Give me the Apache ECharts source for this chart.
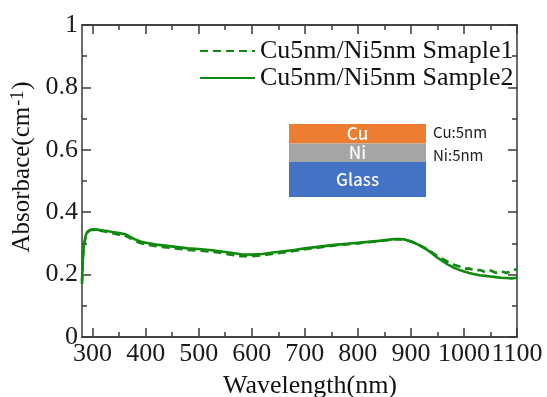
<!DOCTYPE html>
<html>
<head>
<meta charset="utf-8">
<script src="https://cdn.jsdelivr.net/npm/echarts@6/dist/echarts.min.js"></script>
<style>
  html, body { margin: 0; padding: 0; background: #fff; }
  #chart { width: 547px; height: 397px; }
</style>
</head>
<body>
<div id="chart"></div>
<script>
// Absorbance spectra of Cu5nm/Ni5nm films on glass
const wavelength = [280, 282, 284, 287, 290, 295, 300, 310, 320, 330, 340, 350, 360, 370, 380, 390,
  400, 420, 440, 460, 480, 500, 520, 540, 560, 580, 600, 620, 640, 660, 680, 700, 720, 740, 760, 780,
  800, 820, 840, 860, 870, 880, 890, 900, 910, 920, 930, 940, 950, 960, 970, 980, 990, 1000, 1010,
  1020, 1030, 1040, 1050, 1060, 1070, 1080, 1090, 1100];

const sample1 = [0.17, 0.26, 0.295, 0.322, 0.335, 0.342, 0.344, 0.342, 0.339, 0.336, 0.332, 0.328,
  0.326, 0.318, 0.308, 0.301, 0.297, 0.291, 0.287, 0.283, 0.279, 0.277, 0.274, 0.270, 0.264, 0.259,
  0.259, 0.262, 0.267, 0.271, 0.276, 0.281, 0.285, 0.290, 0.294, 0.297, 0.300, 0.304, 0.307, 0.311,
  0.313, 0.313, 0.311, 0.306, 0.299, 0.291, 0.282, 0.271, 0.259, 0.250, 0.241, 0.232, 0.227, 0.218,
  0.220, 0.212, 0.215, 0.208, 0.213, 0.206, 0.211, 0.205, 0.212, 0.218];

const sample2 = [0.18, 0.27, 0.30, 0.325, 0.337, 0.343, 0.345, 0.344, 0.341, 0.339, 0.336, 0.333,
  0.330, 0.322, 0.313, 0.306, 0.302, 0.296, 0.292, 0.288, 0.284, 0.282, 0.279, 0.275, 0.270, 0.265,
  0.264, 0.266, 0.271, 0.275, 0.279, 0.284, 0.288, 0.292, 0.296, 0.299, 0.302, 0.305, 0.308, 0.312,
  0.314, 0.314, 0.312, 0.307, 0.299, 0.290, 0.280, 0.268, 0.254, 0.243, 0.232, 0.223, 0.216, 0.210,
  0.205, 0.201, 0.198, 0.196, 0.194, 0.192, 0.190, 0.189, 0.188, 0.190];

const seriesNames = ['Cu5nm/Ni5nm Smaple1', 'Cu5nm/Ni5nm Sample2'];
const xMajorTicks = [300, 400, 500, 600, 700, 800, 900, 1000, 1100];
const xMinorTicks = [350, 450, 550, 650, 750, 850, 950, 1050];

const SERIF = '"Liberation Serif", "Times New Roman", serif';
const SANS = '"Noto Sans CJK JP", "Noto Sans", sans-serif';
const AXIS = '#3a3a3a';
const GREEN = '#0f8a0f';

function pairs(xs, ys) { return xs.map((x, i) => [x, ys[i]]); }

function xAxisDef(position, ticks, len, withLabels, extra) {
  return Object.assign({
    type: 'value', position: position, min: 280, max: 1100,
    axisLine: { show: true, onZero: false, lineStyle: { color: AXIS, width: 1.5 } },
    axisTick: { show: true, inside: true, length: len, customValues: ticks,
      lineStyle: { color: AXIS, width: 1.5 } },
    axisLabel: withLabels
      ? { show: true, customValues: ticks, margin: 4, color: '#1a1a1a', fontFamily: SERIF, fontSize: 26,
          showMinLabel: true, showMaxLabel: true, hideOverlap: false,
          formatter: function (v) { return String(v); } }
      : { show: false },
    splitLine: { show: false }
  }, extra || {});
}

function yAxisDef(position, withLabels, extra) {
  return Object.assign({
    type: 'value', position: position, min: 0, max: 1, interval: 0.2,
    axisLine: { show: true, onZero: false, lineStyle: { color: AXIS, width: 1.5 } },
    axisTick: { show: true, inside: true, length: 9, lineStyle: { color: AXIS, width: 1.5 } },
    minorTick: { show: true, splitNumber: 2, length: 5, lineStyle: { color: AXIS, width: 1.5 } },
    axisLabel: withLabels
      ? { show: true, margin: 4, color: '#1a1a1a', fontFamily: SERIF, fontSize: 26 }
      : { show: false },
    splitLine: { show: false }
  }, extra || {});
}

const chart = echarts.init(document.getElementById('chart'), null, { renderer: 'canvas' });

chart.setOption({
  backgroundColor: '#ffffff',
  animation: false,
  grid: { left: 82, right: 30, top: 25, bottom: 60, containLabel: false, outerBoundsMode: 'none' },
  legend: {
    orient: 'vertical', left: 199, top: 38, padding: 0,
    itemWidth: 55, itemHeight: 14, itemGap: 1,
    itemStyle: { color: 'rgba(0,0,0,0)', borderWidth: 0, opacity: 0 },
    textStyle: { fontFamily: SERIF, fontSize: 26, color: '#111', lineHeight: 26 },
    data: seriesNames
  },
  xAxis: [
    xAxisDef('bottom', xMajorTicks, 9, true, {
      name: 'Wavelength(nm)', nameLocation: 'middle', nameGap: 36,
      nameTextStyle: { fontFamily: SERIF, fontSize: 26, color: '#111', padding: [0, 0, 0, 21] }
    }),
    xAxisDef('bottom', xMinorTicks, 5, false),
    xAxisDef('top', xMajorTicks, 9, false),
    xAxisDef('top', xMinorTicks, 5, false)
  ],
  yAxis: [
    yAxisDef('left', true, {
      name: 'Absorbace(cm{sup|-1})', nameLocation: 'middle', nameGap: 43, nameRotate: 90,
      nameTextStyle: {
        fontFamily: SERIF, fontSize: 25, color: '#111', padding: [0, 0, 0, 28],
        rich: { sup: { fontFamily: SERIF, fontSize: 18, color: '#111', verticalAlign: 'top', padding: [0, 1, 0, 1] } }
      }
    }),
    yAxisDef('right', false)
  ],
  series: [
    {
      name: seriesNames[0], type: 'line', xAxisIndex: 0, yAxisIndex: 0,
      data: pairs(wavelength, sample1), showSymbol: false, symbol: 'none', smooth: false,
      lineStyle: { color: GREEN, width: 2.6, type: [8, 5] }, itemStyle: { color: GREEN }
    },
    {
      name: seriesNames[1], type: 'line', xAxisIndex: 0, yAxisIndex: 0,
      data: pairs(wavelength, sample2), showSymbol: false, symbol: 'none', smooth: false,
      lineStyle: { color: GREEN, width: 2.6, type: 'solid' }, itemStyle: { color: GREEN }
    }
  ],
  graphic: [
    { type: 'rect', shape: { x: 289, y: 124, width: 137, height: 19.5 }, style: { fill: '#ED7D31' } },
    { type: 'rect', shape: { x: 289, y: 143.5, width: 137, height: 18.5 }, style: { fill: '#A5A5A5' } },
    { type: 'rect', shape: { x: 289, y: 162, width: 137, height: 35 }, style: { fill: '#4472C4' } },
    { type: 'text', x: 357.5, y: 133.5, style: { text: 'Cu', fill: '#fafafa', font: '500 17px ' + SANS, align: 'center', verticalAlign: 'middle' } },
    { type: 'text', x: 357.5, y: 153, style: { text: 'Ni', fill: '#fafafa', font: '500 17px ' + SANS, align: 'center', verticalAlign: 'middle' } },
    { type: 'text', x: 357.5, y: 179.5, style: { text: 'Glass', fill: '#fafafa', font: '500 17px ' + SANS, align: 'center', verticalAlign: 'middle' } },
    { type: 'text', x: 433, y: 132, style: { text: 'Cu:5nm', fill: '#222', font: '15px ' + SANS, align: 'left', verticalAlign: 'middle' } },
    { type: 'text', x: 433, y: 155, style: { text: 'Ni:5nm', fill: '#222', font: '15px ' + SANS, align: 'left', verticalAlign: 'middle' } }
  ]
});
</script>
</body>
</html>
